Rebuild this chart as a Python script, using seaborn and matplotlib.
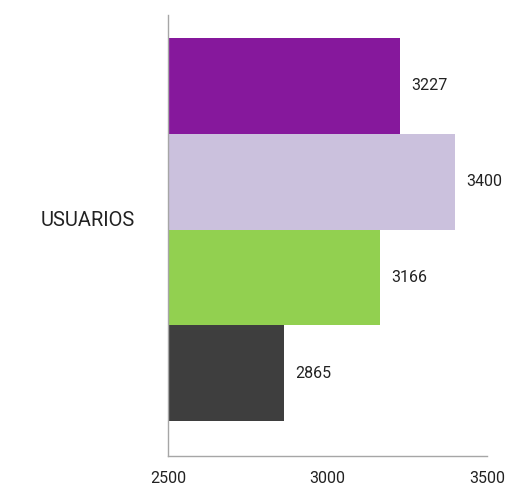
import pandas as pd
import seaborn as sns
import matplotlib.pyplot as plt
import matplotlib.transforms as mtransforms

# chart data
categoria = ["USUARIOS"]
series = ["Serie 1", "Serie 2", "Serie 3", "Serie 4"]
valores = [3227, 3400, 3166, 2865]
colores = ["#86189c", "#cbc1dd", "#92d050", "#3e3e3e"]

df = pd.DataFrame({
    "categoria": categoria * len(series),
    "serie": series,
    "valor": valores,
})

sns.set_style("white")
plt.rcParams['font.family'] = ['Roboto', 'DejaVu Sans']

fig = plt.figure(figsize=(5.22, 4.86), dpi=100)
ax = fig.add_axes([168 / 522, 30 / 486, 319 / 522, 441 / 486])

sns.barplot(data=df, y="categoria", x="valor", hue="serie", palette=colores,
            orient="h", width=0.8, saturation=1, legend=False, linewidth=0, ax=ax)

for cont in ax.containers:
    ax.bar_label(cont, padding=8, fontsize=11.5, color="#222222")

ax.set_xlim(2500, 3500)
ax.set_xticks([2500, 3000, 3500])
ax.set_ylim(0.473, -0.448)
ax.set_xlabel("")
ax.set_ylabel("")
ax.tick_params(axis="x", length=0, pad=11, labelsize=11.5, labelcolor="#222222")
ax.tick_params(axis="y", length=0, pad=24, labelsize=14.5, labelcolor="#222222")

# nudge the category label up a bit, like the original
shift = mtransforms.ScaledTranslation(0, 11 / 100, fig.dpi_scale_trans)
for lbl in ax.get_yticklabels():
    lbl.set_transform(lbl.get_transform() + shift)

for side in ["top", "right"]:
    ax.spines[side].set_visible(False)
for side in ["left", "bottom"]:
    ax.spines[side].set_color("#a6a6a6")
    ax.spines[side].set_linewidth(1)

fig.savefig("out.png", dpi=100)
